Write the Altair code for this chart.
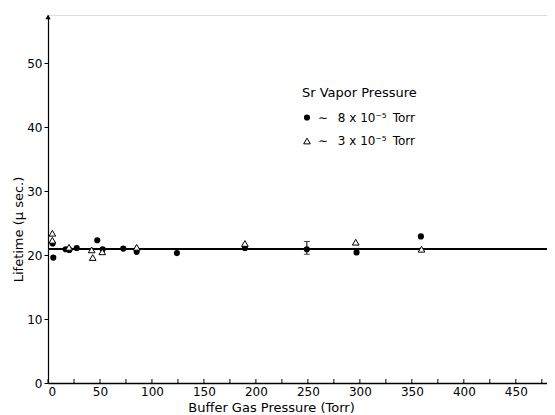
import altair as alt
import pandas as pd

# ~8e-5 Torr Sr vapor pressure (filled circles)
filled_x = [4.5, 5.1, 17, 20.5, 27.6, 47.4, 52.6, 72.4, 85.3, 124, 189.4, 249, 296.8, 358.7]
filled_y = [21.8, 19.6, 20.9, 20.8, 21.1, 22.3, 20.9, 21.0, 20.5, 20.3, 21.1, 20.9, 20.4, 22.9]
# ~3e-5 Torr Sr vapor pressure (open triangles)
open_x = [4.2, 4.2, 20.2, 42.0, 43.0, 52.2, 85.3, 189.4, 296.0, 359.3]
open_y = [23.4, 22.3, 21.2, 20.8, 19.6, 20.5, 21.2, 21.8, 22.0, 20.9]

err_x = [249]
err_lo = [20.1]
err_hi = [22.1]

FIT_LIFETIME = 20.9
x_tick_values = list(range(0, 500, 25))
y_tick_values = [0, 10, 20, 30, 40, 50]

LEGEND_TITLE = "Sr Vapor Pressure"
SER_A = "\u223c\u2002 8 x 10\u207b\u2075\u2002Torr"
SER_B = "\u223c\u2002 3 x 10\u207b\u2075\u2002Torr"

FONT = "DejaVu Sans"
W, H = 499, 368
xscale = alt.Scale(domain=[0, 480], nice=False, zero=False)
yscale = alt.Scale(domain=[0, 57.5], nice=False)

filled_df = pd.DataFrame({"p": filled_x, "t": filled_y})
open_df = pd.DataFrame({"p": open_x, "t": open_y})
err = pd.DataFrame({"p": err_x, "lo": err_lo, "hi": err_hi})
caps = pd.DataFrame({"p": err_x * 2, "t": err_lo + err_hi})
ticks = pd.DataFrame({"p": x_tick_values})
one = pd.DataFrame({"a": [0]})

x_axis = alt.Axis(
    values=x_tick_values,
    labelExpr="datum.value % 50 == 0 ? datum.label : ''",
    ticks=False, grid=False, labelPadding=3, labelFontSize=12,
    labelFont=FONT, labelColor="black", domainColor="black", domainWidth=1.5,
    title="Buffer Gas Pressure (Torr)", titleFont=FONT, titleFontSize=13,
    titleFontWeight="normal", titleX=223, titleY=24, titleAlign="center",
    titleBaseline="middle", titleColor="black",
)
y_axis = alt.Axis(
    values=y_tick_values, tickSize=4, tickColor="black", grid=False,
    labelPadding=2, labelFontSize=12, labelFont=FONT, labelColor="black",
    domainColor="black", domainWidth=1.2,
    title="Lifetime  (\u03bc sec.)", titleFont=FONT, titleFontSize=13,
    titleFontWeight="normal", titleX=-30, titleY=214, titleAlign="center",
    titleBaseline="middle", titleAngle=-90, titleColor="black",
)

filled_pts = alt.Chart(filled_df).mark_point(
    shape="circle", filled=True, color="black", opacity=1, size=38).encode(
    x=alt.X("p:Q", scale=xscale, axis=x_axis),
    y=alt.Y("t:Q", scale=yscale, axis=y_axis),
)
open_pts = alt.Chart(open_df).mark_point(
    shape="triangle-up", filled=False, fill="white", stroke="black", strokeWidth=1, opacity=1, size=44).encode(
    x=alt.X("p:Q", scale=xscale), y=alt.Y("t:Q", scale=yscale))

fit = alt.Chart(filled_df).mark_rule(color="black", strokeWidth=1.2).encode(
    y=alt.datum(FIT_LIFETIME, scale=yscale))

bar = alt.Chart(err).mark_rule(color="black", strokeWidth=1).encode(
    x=alt.X("p:Q", scale=xscale), y=alt.Y("lo:Q", scale=yscale), y2="hi:Q")
capmarks = alt.Chart(caps).mark_tick(orient="horizontal", color="black", size=6, thickness=1).encode(
    x=alt.X("p:Q", scale=xscale), y=alt.Y("t:Q", scale=yscale))

xticks = alt.Chart(ticks).mark_rule(color="black", strokeWidth=1).encode(
    x=alt.X("p:Q", scale=xscale), y=alt.value(H), y2=alt.value(H - 4))

arrow = alt.Chart(one).mark_point(
    shape="triangle-up", filled=True, color="black", size=28, opacity=1).encode(
    x=alt.value(0), y=alt.value(2))

# legend block
leg_title = alt.Chart(one).mark_text(
    text=LEGEND_TITLE, font=FONT, fontSize=13, align="left", baseline="middle", color="black").encode(
    x=alt.value(254), y=alt.value(78))
leg_sym_a = alt.Chart(one).mark_point(shape="circle", filled=True, color="black", opacity=1, size=38).encode(
    x=alt.value(259), y=alt.value(102.5))
leg_sym_b = alt.Chart(one).mark_point(shape="triangle-up", filled=False, fill="white", stroke="black",
                                      strokeWidth=1, opacity=1, size=44).encode(
    x=alt.value(259), y=alt.value(126))
leg_lab_a = alt.Chart(one).mark_text(
    text=SER_A, font=FONT, fontSize=12, align="left", baseline="middle", color="black").encode(
    x=alt.value(270), y=alt.value(102.5))
leg_lab_b = alt.Chart(one).mark_text(
    text=SER_B, font=FONT, fontSize=12, align="left", baseline="middle", color="black").encode(
    x=alt.value(270), y=alt.value(126))

chart = alt.layer(fit, xticks, bar, capmarks, filled_pts, open_pts, arrow,
                  leg_title, leg_sym_a, leg_sym_b, leg_lab_a, leg_lab_b).properties(
    width=W, height=H, autosize="none",
    padding={"left": 40, "top": 7, "right": 0, "bottom": 30},
).configure_view(stroke=None).configure(background="white")

chart.save("out.html", embed_options={"renderer": "svg", "actions": False})
